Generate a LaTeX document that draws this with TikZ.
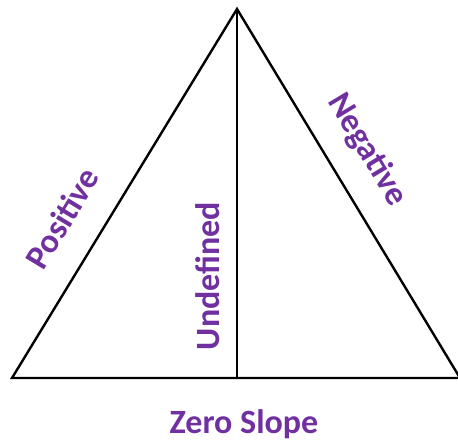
\documentclass[tikz,border=0pt]{standalone}
\usepackage{fontspec}
\setmainfont{Carlito}
\usepackage{tikz}
\usetikzlibrary{calc}

\definecolor{slopepurple}{RGB}{112,48,160}
\tikzset{
  slopelabel/.style={text=slopepurple,font=\fontsize{34}{38}\selectfont\bfseries,inner sep=0pt},
  edge/.style={line width=2.4pt,line join=miter}
}

\begin{document}
\begin{tikzpicture}[x=1pt,y=-1pt]
  \useasboundingbox (0,0) rectangle (458,446);
  % corners of the triangle
  \coordinate (apex) at (237,9);
  \coordinate (left) at (12,378);
  \coordinate (right) at (460,378);
  \coordinate (foot) at (237,378);
  \draw[edge] (left)--(apex)--(right)--cycle;
  \draw[edge] (apex)--(foot);
  % the four slopes
  \node[slopelabel,rotate=58.7] (pos) at (62,218) {Positive};
  \node[slopelabel,rotate=-59] (neg) at (367,150) {Negative};
  \node[slopelabel,rotate=90] (undef) at (208,276) {Undefined};
  \node[slopelabel] (zero) at (244,424) {Zero Slope};
\end{tikzpicture}
\end{document}
